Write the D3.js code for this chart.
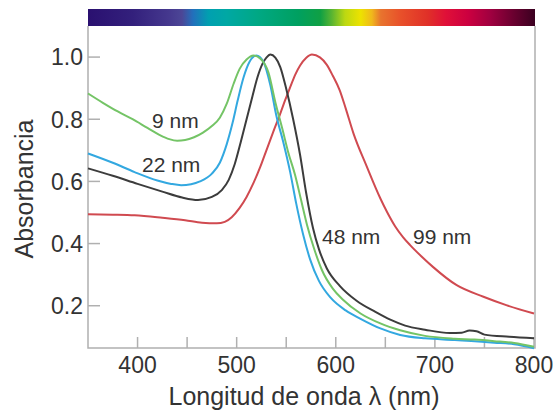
<!DOCTYPE html>
<meta charset="utf-8">
<head>
  <title>Absorbancia vs longitud de onda</title>
</head>
<style>
  html, body {
    margin: 0;
    height: 100%;
    overflow: hidden;
    background: #fff;
    font-family: "Liberation Sans", Arial, Helvetica, sans-serif;
  }
  svg text {
    fill: #333;
  }
</style>
<body>
<svg id="chart" width="553" height="411"></svg>
<script src="https://d3js.org/d3.v7.min.js"></script>
<script>
// wavelength (nm), absorbance (normalised)
var green9 = [
  [350,0.883],[365,0.853],[380,0.825],[395,0.800],[410,0.772],[422,0.750],[432,0.736],
  [440,0.731],[448,0.733],[457,0.742],[466,0.757],[475,0.778],[483,0.805],[490,0.850],
  [497,0.915],[503,0.962],[510,0.992],[517,1.005],[524,0.995],
  [532,0.951],[539,0.855],[546,0.770],[552,0.694],[559,0.620],[565,0.540],[571,0.460],
  [578,0.385],[586,0.315],[597,0.255],[607,0.220],[625,0.175],[645,0.143],[665,0.121],
  [690,0.103],[720,0.094],[740,0.091],[760,0.086],[780,0.080],[800,0.068]
];
var blue22 = [
  [350,0.690],[375,0.660],[397,0.630],[420,0.603],[434,0.592],[444,0.588],[454,0.591],
  [463,0.600],[475,0.625],[483,0.660],[490,0.720],[496,0.790],[501,0.860],[507,0.935],
  [513,0.985],[520,1.005],
  [527,0.985],[534,0.909],[540,0.812],[547,0.727],[554,0.630],[560,0.530],[567,0.430],
  [574,0.350],[583,0.280],[595,0.225],[610,0.185],[625,0.158],[645,0.127],
  [665,0.106],[690,0.095],[720,0.090],[760,0.081],[780,0.076],[800,0.063]
];
var black48 = [
  [350,0.642],[375,0.618],[400,0.592],[425,0.567],[445,0.548],[461,0.540],[475,0.550],
  [485,0.572],[492,0.605],[498,0.655],[504,0.725],[510,0.800],[516,0.875],[521,0.935],
  [526,0.978],[530,0.998],[534,1.008],[539,0.998],[544,0.968],[550,0.898],[557,0.800],
  [564,0.685],[570,0.565],[577,0.450],[583,0.382],[591,0.320],[604,0.264],[621,0.216],
  [640,0.180],[655,0.155],[670,0.136],[690,0.123],[715,0.112],[727,0.113],[735,0.120],
  [742,0.118],[750,0.107],[775,0.100],[800,0.095]
];
var red99 = [
  [350,0.494],[375,0.493],[397,0.491],[425,0.483],[448,0.475],[465,0.467],[480,0.465],
  [488,0.470],[495,0.485],[503,0.515],[510,0.550],[517,0.595],[524,0.648],[530,0.700],
  [537,0.760],[544,0.818],[549,0.862],[554,0.903],[559,0.943],[564,0.973],[570,0.997],
  [576,1.008],[584,0.999],[591,0.975],[597,0.940],[604,0.893],[610,0.835],[618,0.753],
  [631,0.650],[645,0.545],[652,0.500],[660,0.455],[668,0.420],[675,0.395],[686,0.360],
  [698,0.325],[722,0.266],[749,0.229],[772,0.202],[800,0.175]
];

var seriesNames = ['9 nm', '22 nm', '48 nm', '99 nm'];
var xTicks = [400, 500, 600, 700, 800];
var xMinorTicks = [450, 550, 650, 750];
var yTicks = [0.2, 0.4, 0.6, 0.8, 1.0];

// colour bar stops (fraction of bar width, colour)
var spectrumStops = [
  [0.00,'#2a1070'],[0.10,'#33207c'],[0.18,'#45388e'],[0.21,'#4c4696'],[0.235,'#2270bc'],
  [0.27,'#00a0b0'],[0.31,'#00a8a4'],[0.38,'#00a884'],[0.47,'#00a060'],[0.52,'#10a044'],
  [0.545,'#58b432'],[0.575,'#bcd812'],[0.61,'#ede200'],[0.635,'#f0b81c'],[0.655,'#e8742e'],
  [0.70,'#e8502a'],[0.76,'#e03028'],[0.80,'#e01038'],[0.85,'#cc0040'],[0.90,'#a00040'],
  [0.95,'#6c0030'],[1.00,'#3a0020']
];

var plotL = 88, plotR = 534, plotT = 26, plotB = 348, barT = 9;

var svg = d3.select('#chart');

var x = d3.scaleLinear().domain([350, 800]).range([plotL, plotR]);
var y = d3.scaleLinear().domain([0.064, 1.10]).range([plotB, plotT]);

// spectrum bar
var grad = svg.append('defs').append('linearGradient')
  .attr('id', 'spectrum').attr('x1', '0%').attr('x2', '100%').attr('y1', '0%').attr('y2', '0%');
grad.selectAll('stop').data(spectrumStops).enter().append('stop')
  .attr('offset', function(d) { return (d[0] * 100) + '%'; })
  .attr('stop-color', function(d) { return d[1]; });

svg.append('rect')
  .attr('x', plotL).attr('y', barT)
  .attr('width', plotR - plotL + 1).attr('height', plotT - barT)
  .attr('fill', 'url(#spectrum)');

// frame
var frameColor = '#b0b0b0';
svg.append('path')
  .attr('d', 'M' + plotL + ',' + plotT + 'V' + plotB + 'H' + (plotR + 1) + 'V' + plotT)
  .attr('fill', 'none').attr('stroke', frameColor).attr('stroke-width', 1.5);

// ticks (pointing inward)
svg.append('g').selectAll('line').data(yTicks).enter().append('line')
  .attr('x1', plotL).attr('x2', plotL + 12)
  .attr('y1', function(d) { return y(d); }).attr('y2', function(d) { return y(d); })
  .attr('stroke', frameColor).attr('stroke-width', 1.5);

svg.append('g').selectAll('line').data(xTicks.concat(xMinorTicks)).enter().append('line')
  .attr('x1', function(d) { return x(d); }).attr('x2', function(d) { return x(d); })
  .attr('y1', plotB).attr('y2', plotB - 11)
  .attr('stroke', frameColor).attr('stroke-width', 1.5);

// tick labels
svg.append('g').selectAll('text').data(yTicks).enter().append('text')
  .attr('x', 83).attr('y', function(d) { return y(d); })
  .attr('dy', '0.36em')
  .attr('text-anchor', 'end')
  .style('font-size', '23px')
  .text(function(d) { return d.toFixed(1); });

svg.append('g').selectAll('text').data(xTicks).enter().append('text')
  .attr('x', function(d) { return x(d); }).attr('y', 373)
  .attr('text-anchor', 'middle')
  .style('font-size', '23px')
  .text(function(d) { return d; });

// axis titles
svg.append('text')
  .attr('x', 304).attr('y', 405)
  .attr('text-anchor', 'middle')
  .style('font-size', '25px')
  .text('Longitud de onda \u03bb (nm)');

svg.append('text')
  .attr('transform', 'translate(33,189) rotate(-90)')
  .attr('text-anchor', 'middle')
  .style('font-size', '25px')
  .text('Absorbancia');

// curves
var line = d3.line()
  .x(function(d) { return x(d[0]); })
  .y(function(d) { return y(d[1]); })
  .curve(d3.curveMonotoneX);

var curves = [
  {data: red99, color: '#d04a50'},
  {data: black48, color: '#3c3c3c'},
  {data: blue22, color: '#33a8e0'},
  {data: green9, color: '#74c466'}
];

svg.append('g').selectAll('path').data(curves).enter().append('path')
  .attr('d', function(d) { return line(d.data); })
  .attr('fill', 'none')
  .attr('stroke', function(d) { return d.color; })
  .attr('stroke-width', 2);

// curve labels
var labelPos = [[152, 128], [142, 171.5], [322, 243.5], [413, 243.5]];
svg.append('g').selectAll('text').data(seriesNames).enter().append('text')
  .attr('x', function(d, i) { return labelPos[i][0]; })
  .attr('y', function(d, i) { return labelPos[i][1]; })
  .style('font-size', '21px')
  .text(function(d) { return d; });
</script>
</body>
